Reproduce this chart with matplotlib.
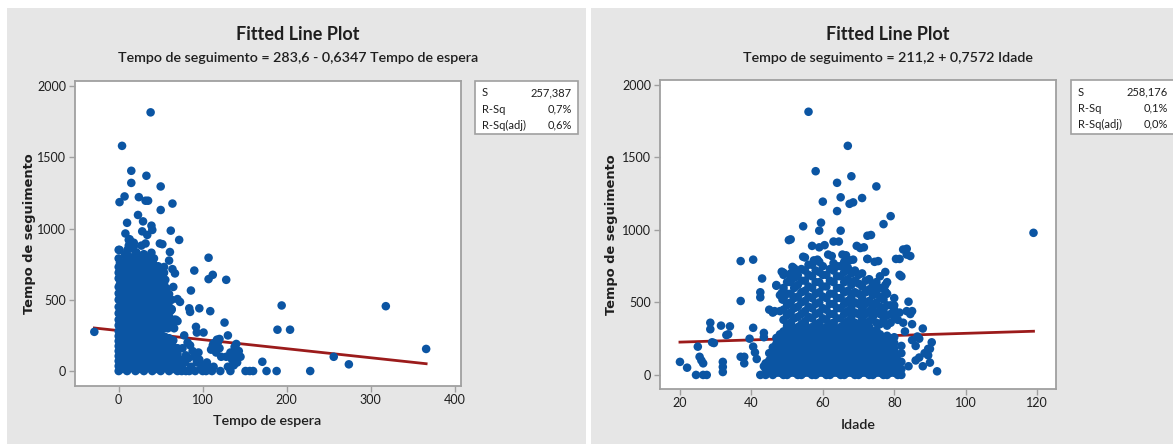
import numpy as np
import matplotlib.pyplot as plt
from matplotlib.patches import Rectangle

# Tempo de espera (x) vs Tempo de seguimento (y): dense block by columns
espera_core_x = [0, 5, 10, 15, 20, 25, 30, 35, 40, 45, 50, 55, 60, 65, 70, 75]
espera_core_y = [
    [0, 35, 70, 105, 140, 175, 210, 245, 280],
    [15, 50, 85, 120, 160, 195, 230, 265, 300],
    [0, 30, 65, 100, 140, 170, 210, 250, 285],
    [20, 55, 90, 125, 160, 195, 235, 270],
    [0, 35, 70, 110, 145, 180, 215, 250, 290],
    [15, 50, 85, 120, 155, 195, 230, 270],
    [0, 35, 70, 105, 140, 175, 215, 255, 290],
    [20, 55, 90, 125, 160, 200, 240, 275],
    [0, 35, 70, 110, 145, 180, 220, 260, 300],
    [15, 50, 85, 120, 160, 195, 235, 270],
    [0, 35, 75, 110, 145, 185, 225, 260],
    [20, 55, 90, 125, 165, 200, 240],
    [0, 35, 70, 110, 150, 190, 230],
    [15, 50, 90, 130, 170, 215],
    [0, 35, 75, 120, 160],
    [0, 30, 80],
]
espera_upper_x = [0, 3, 6, 9, 12, 15, 18, 21, 24, 27, 30, 33, 36, 39, 42,
                  45, 48, 51, 54, 57, 60, 63, 66, 70]
espera_upper_y = [
    [320, 360, 405, 450, 500, 545, 590, 650, 690, 730, 790, 850],
    [330, 400, 480, 560, 620, 700],
    [310, 370, 440, 520, 600, 660, 760],
    [340, 420, 490, 570, 640, 720, 800],
    [300, 360, 450, 530, 610, 690, 780, 880, 920],
    [330, 400, 470, 560, 640, 720, 860],
    [310, 380, 440, 510, 600, 680, 750, 900],
    [350, 420, 500, 570, 650, 710, 830],
    [320, 390, 460, 540, 620, 690, 760],
    [340, 410, 480, 560, 640, 730, 880],
    [310, 380, 450, 520, 600, 670, 820],
    [340, 420, 490, 570, 650, 740],
    [320, 390, 460, 540, 610, 690, 800],
    [350, 420, 500, 580, 660, 760, 830],
    [310, 380, 450, 530, 600, 680, 790],
    [340, 410, 480, 560, 650, 720],
    [310, 390, 460, 530, 610, 700],
    [330, 400, 480, 560, 650],
    [300, 370, 450, 520, 610, 690],
    [340, 420, 490, 580],
    [310, 380, 450, 540],
    [330, 430, 500],
    [300, 360],
    [350],
]
espera_mid_x = [1.5, 4.5, 7.5, 10.5, 13.5, 16.5, 19.5, 22.5, 25.5, 28.5,
                31.5, 34.5, 37.5, 40.5, 43.5, 46.5, 49.5, 52.5, 55.5, 58.5,
                61.5]
espera_mid_y = [
    [340, 420, 520, 610, 700, 760],
    [300, 370, 440, 510, 590, 660, 740],
    [350, 410, 480, 550, 630, 700, 820],
    [310, 380, 460, 540, 600, 680, 760, 850],
    [340, 420, 500, 580, 650, 740, 800],
    [300, 360, 430, 490, 580, 660, 780],
    [330, 400, 470, 540, 620, 700, 770],
    [300, 380, 450, 530, 600, 680, 790],
    [350, 420, 500, 580, 650, 720],
    [300, 370, 440, 520, 590, 660, 780],
    [350, 410, 480, 550, 630, 700],
    [300, 370, 450, 520, 590, 660, 760],
    [340, 400, 480, 560, 640, 710],
    [300, 380, 460, 540, 620, 700],
    [350, 430, 500, 580, 680],
    [330, 400, 470, 540, 620],
    [300, 370, 440, 510, 590],
    [350, 420, 500, 590, 660],
    [320, 400, 470, 550, 640],
    [300, 360, 430, 500],
    [360, 420],
]
# isolated cases (tempo de espera, tempo de seguimento)
espera_points = [
    (-29, 275), (38, 1815), (4, 1580), (15, 1405), (15, 1320), (33, 1370),
    (50, 1295), (1, 1185), (7, 1225), (24, 1220), (32, 1195), (35, 1195),
    (64, 1175), (50, 1130), (23, 1095), (10, 1040), (29, 1050), (39, 1020),
    (40, 990), (62, 985), (72, 920), (8, 965), (52, 890), (1, 850),
    (13, 925), (15, 905), (18, 875), (21, 830), (28, 980), (34, 955),
    (32, 895), (37, 800), (41, 755), (47, 735), (49, 895), (61, 835),
    (60, 775), (64, 715), (67, 685), (65, 590), (70, 505), (63, 435),
    (68, 360), (54, 730), (53, 685), (48, 655),
    (107, 795), (90, 705), (112, 675), (107, 645), (128, 640), (86, 565),
    (84, 440), (85, 415), (96, 440), (109, 420), (194, 460), (318, 455),
    (126, 340), (189, 290), (204, 290), (92, 310), (101, 270), (93, 270),
    (130, 250), (117, 220), (120, 225), (113, 195), (112, 180), (73, 485),
    (366, 155), (256, 100), (274, 47), (171, 65),
    (228, 0), (188, 0), (176, 0), (151, 0), (156, 0), (160, 0), (133, 0),
    (121, 0), (111, 0), (91, 0), (100, 0), (104, 0), (84, 0), (80, 0),
    (128, 100), (133, 130), (138, 170), (140, 190), (143, 140), (145, 100),
    (135, 80), (141, 60), (130, 30), (137, 40), (142, 110), (139, 125),
    (105, 60), (108, 20), (113, 30), (115, 150), (118, 200), (110, 150),
    (116, 130), (120, 160), (122, 100), (100, 40),
    (82, 200), (85, 180), (88, 140), (90, 100), (93, 60), (95, 130),
    (80, 110), (86, 30), (98, 20), (96, 80), (78, 250), (76, 160),
    (79, 60), (83, 90),
]

# Idade (x) vs Tempo de seguimento (y)
idade_core_x = [44, 46, 48, 50, 52, 54, 56, 58, 60, 62, 64, 66, 68, 70, 72,
                74, 76, 78, 80, 82]
idade_core_y = [
    [0, 40, 80],
    [0, 35, 70, 110, 150, 190],
    [15, 50, 85, 120, 160, 200, 240, 280],
    [0, 35, 70, 105, 140, 175, 210, 250, 290, 330],
    [15, 50, 85, 120, 155, 190, 230, 270, 310],
    [0, 35, 70, 105, 140, 180, 215, 250, 290, 330],
    [15, 50, 85, 120, 160, 195, 235, 270, 310],
    [0, 35, 70, 105, 140, 175, 210, 250, 290, 330],
    [15, 50, 85, 120, 155, 195, 230, 270, 310],
    [0, 35, 70, 110, 145, 180, 215, 255, 290, 330],
    [15, 50, 85, 125, 160, 195, 235, 270, 310],
    [0, 35, 70, 105, 140, 180, 215, 250, 290, 330],
    [15, 50, 90, 125, 160, 200, 235, 275, 310],
    [0, 35, 70, 105, 145, 180, 220, 255, 290, 330],
    [15, 50, 85, 120, 160, 195, 230, 270, 310],
    [0, 35, 70, 110, 145, 180, 215, 255, 290],
    [15, 50, 85, 125, 160, 200, 240, 280],
    [0, 35, 70, 110, 150, 190, 230, 270],
    [15, 55, 100, 140, 180, 220, 260],
    [0, 40, 90, 150, 200],
]
idade_core2_x = [45, 47, 49, 51, 53, 55, 57, 59, 61, 63, 65, 67, 69, 71, 73,
                 75, 77, 79, 81]
idade_core2_y = [
    [15, 55, 100, 150],
    [15, 50, 90, 130, 170, 215, 255],
    [0, 35, 70, 105, 140, 180, 220, 260, 300],
    [15, 50, 85, 120, 160, 195, 235, 270, 310, 350],
    [0, 35, 70, 105, 140, 175, 215, 250, 290, 330],
    [15, 50, 85, 120, 160, 195, 230, 270, 310, 350],
    [0, 35, 70, 110, 145, 180, 215, 255, 290, 330],
    [15, 50, 85, 125, 160, 195, 235, 270, 310, 350],
    [0, 35, 70, 105, 140, 180, 215, 250, 290, 330],
    [15, 50, 90, 125, 160, 200, 235, 275, 310, 350],
    [0, 35, 70, 105, 145, 180, 220, 255, 290, 330],
    [15, 50, 85, 120, 160, 195, 230, 270, 310, 350],
    [0, 35, 70, 110, 145, 180, 215, 255, 290, 330],
    [15, 50, 85, 125, 160, 200, 240, 280, 320],
    [0, 35, 70, 105, 140, 180, 215, 250, 290, 330],
    [15, 50, 85, 120, 160, 195, 235, 270, 310],
    [0, 35, 70, 110, 145, 180, 220, 260],
    [15, 50, 90, 130, 170, 210, 250],
    [0, 45, 95, 140],
]
idade_upper_x = [49, 51, 53, 55, 57, 59, 61, 63, 65, 67, 69, 71, 73, 75, 77, 79]
idade_upper_y = [
    [380, 450, 520, 600],
    [360, 430, 500, 560, 640, 700],
    [400, 470, 540, 620, 690],
    [370, 440, 510, 580, 650, 720],
    [390, 460, 530, 600, 680, 760],
    [360, 430, 500, 570, 640, 710, 780],
    [380, 450, 530, 610, 690],
    [360, 420, 490, 560, 640, 720, 770],
    [390, 460, 530, 600, 680, 750],
    [370, 440, 510, 580, 660, 740],
    [360, 430, 500, 570, 650, 720],
    [390, 460, 530, 610, 700],
    [370, 440, 510, 590, 660],
    [360, 430, 500, 580, 640],
    [380, 450, 520, 600],
    [360, 420, 480],
]
idade_upper2_x = [50, 52, 54, 56, 58, 60, 62, 64, 66, 68, 70, 72, 74, 76, 78,
                  80]
idade_upper2_y = [
    [340, 410, 480, 560, 640],
    [390, 460, 530, 600, 670, 720],
    [350, 420, 500, 570, 650, 730],
    [400, 470, 540, 610, 690, 760],
    [350, 420, 490, 560, 640, 720],
    [390, 460, 540, 610, 690, 750],
    [350, 420, 490, 560, 650, 730],
    [390, 460, 530, 600, 680, 750],
    [350, 420, 490, 570, 640, 710, 780],
    [400, 470, 540, 620, 700],
    [350, 420, 490, 560, 630, 690],
    [350, 420, 490, 570, 650],
    [400, 470, 550, 620],
    [350, 420, 470, 540, 600, 680],
    [340, 410, 480, 560, 640],
    [400, 450, 530],
]
# isolated cases (idade, tempo de seguimento)
idade_points = [
    (56, 1815), (67, 1580), (58, 1405), (68, 1370), (64, 1325), (75, 1300),
    (60, 1195), (65, 1225), (67.5, 1180), (68.5, 1190), (71, 1220),
    (64, 1130), (79, 1095), (59.5, 1050), (59, 995), (54.5, 1025),
    (65, 995), (77, 1040), (119, 980), (51, 935), (57, 890), (59, 880),
    (60.5, 895), (63, 920), (64.5, 920), (69.5, 890), (70.5, 875),
    (71.5, 880), (72.5, 960), (73.5, 965), (62.5, 820), (55, 810),
    (58.5, 795), (66.5, 825), (68.5, 795), (75.5, 785), (72.5, 800),
    (81.5, 800), (82, 680), (83.5, 870), (84.5, 820),
    (37, 785), (40.5, 795), (37, 510), (43, 665), (42.5, 570), (42.5, 535),
    (40.5, 325), (31.5, 340), (34, 335), (33.5, 280), (28.5, 360),
    (28.5, 315), (29.5, 220), (25, 195), (20, 90), (22, 50), (24.5, 0),
    (26.5, 0), (27.5, 0), (25.5, 125), (26, 100), (26.5, 80), (32, 90),
    (32, 55), (32, 20), (37, 125), (38, 125), (38, 80), (40.5, 195),
    (41, 155), (41.5, 110), (42.5, 0), (43.5, 290), (43.5, 260),
    (43.5, 60), (44.5, 30), (47, 615), (48.5, 565), (49, 530), (46, 430),
    (46.5, 440), (49, 705), (49, 690), (52, 735), (51, 670),
    (88, 320), (90.5, 225), (92, 25), (90, 85), (89.5, 135), (84, 505),
    (85, 440), (84.5, 420), (85, 350), (87, 250), (86, 200), (87, 120),
    (81.5, 430), (82.5, 360), (80, 480),
    (47, 620), (48.5, 712), (50.5, 930), (48, 550), (48.7, 520), (45, 450),
    (48, 440), (39.5, 250), (33, 275), (29, 225),
    (54.5, 815), (57.5, 790), (61.5, 830), (65.5, 830), (67.5, 790),
    (72.5, 800), (74.5, 780), (80.5, 800), (83.5, 830), (82.5, 865),
    (51.5, 745), (77.5, 710), (81.5, 690), (77.5, 620), (77.5, 575),
    (83.5, 440), (86.5, 265), (89.5, 180), (88, 60), (86, 100), (84, 60),
    (81, 380), (83, 300), (85, 240), (88.5, 150), (90, 180),
]

stats_labels = ['S', 'R-Sq', 'R-Sq(adj)']
espera_stats = ['257,387', '0,7%', '0,6%']
idade_stats = ['258,176', '0,1%', '0,0%']
espera_fit = (283.6, -0.6347)
idade_fit = (211.2, 0.7572)

W, H = 1173, 444
BLUE = '#0b55a3'
RED = '#9b1b1b'
FRAME = '#a0a0a0'
TEXT = '#1e1e1e'
FONT = ['Lato', 'DejaVu Sans']


def columns(xs, ys):
    px, py = [], []
    for x, col in zip(xs, ys):
        px += [x] * len(col)
        py += col
    return px, py


def pairs(pts):
    return [p[0] for p in pts], [p[1] for p in pts]


def fx(x):
    return x / W


def fy(y):
    return 1 - y / H


fig = plt.figure(figsize=(W / 100, H / 100), dpi=100)
fig.patch.set_facecolor('white')

# grey panel backgrounds, kept under the axes
for x0, x1 in [(7, 586), (591, 1173)]:
    fig.patches.append(Rectangle((fx(x0), 0), fx(x1) - fx(x0), fy(8),
                                 transform=fig.transFigure,
                                 facecolor='#e6e6e6', edgecolor='none',
                                 zorder=-10))

panels = [
    dict(rect=(74.5, 81, 460.5, 386), xlim=(-52.6, 406.9), ylim=(-105, 2035),
         xticks=[0, 100, 200, 300, 400],
         pts=[columns(espera_core_x, espera_core_y),
              columns(espera_upper_x, espera_upper_y),
              columns(espera_mid_x, espera_mid_y),
              pairs(espera_points)],
         fit=espera_fit, stats=espera_stats,
         title_x=298, sub='Tempo de seguimento = 283,6 - 0,6347 Tempo de espera',
         xlabel='Tempo de espera', xlabel_y=421, ylabel_x=30,
         box=(475, 81, 578, 134)),
    dict(rect=(659.6, 80, 1056, 389), xlim=(14.3, 125.3), ylim=(-97, 2034),
         xticks=[20, 40, 60, 80, 100, 120],
         pts=[columns(idade_core_x, idade_core_y),
              columns(idade_core2_x, idade_core2_y),
              columns(idade_upper_x, idade_upper_y),
              columns(idade_upper2_x, idade_upper2_y),
              pairs(idade_points)],
         fit=idade_fit, stats=idade_stats,
         title_x=888, sub='Tempo de seguimento = 211,2 + 0,7572 Idade',
         xlabel='Idade', xlabel_y=425, ylabel_x=612,
         box=(1071, 80, 1180, 134)),
]

for p in panels:
    l, t, r, b = p['rect']
    ax = fig.add_axes([fx(l), fy(b), fx(r) - fx(l), fy(t) - fy(b)])
    ax.set_zorder(1)
    ax.set_facecolor('white')
    xs_all = []
    for xs, ys in p['pts']:
        ax.scatter(xs, ys, s=38, color=BLUE, edgecolors='none', zorder=3)
        xs_all += list(xs)
    a, m = p['fit']
    lx = np.array([min(xs_all), max(xs_all)])
    ax.plot(lx, a + m * lx, color=RED, lw=2.0, zorder=2)
    ax.set_xlim(*p['xlim'])
    ax.set_ylim(*p['ylim'])
    ax.set_xticks(p['xticks'])
    ax.set_yticks([0, 500, 1000, 1500, 2000])
    for s in ax.spines.values():
        s.set_color(FRAME)
        s.set_linewidth(1.3)
    ax.tick_params(direction='out', length=4, width=1, color=FRAME,
                   labelcolor=TEXT, labelsize=9, pad=2)
    for lab in ax.get_xticklabels() + ax.get_yticklabels():
        lab.set_family(FONT)

    cx = p['title_x']
    fig.text(fx(cx), fy(35), 'Fitted Line Plot', ha='center', va='center',
             family=FONT, fontweight='bold', fontsize=13, color=TEXT)
    fig.text(fx(cx), fy(58), p['sub'], ha='center', va='center',
             family=FONT, fontweight='semibold', fontsize=10.3, color=TEXT)
    fig.text(fx((l + r) / 2), fy(p['xlabel_y']), p['xlabel'], ha='center',
             va='center', family=FONT, fontweight='semibold', fontsize=10.3,
             color=TEXT)
    fig.text(fx(p['ylabel_x']), fy((t + b) / 2), 'Tempo de seguimento',
             rotation=90, ha='center', va='center', family='DejaVu Sans',
             fontweight='bold', fontsize=9.4, color=TEXT)

    bl, bt, br, bb = p['box']
    fig.patches.append(Rectangle((fx(bl), fy(bb)), fx(br) - fx(bl),
                                 fy(bt) - fy(bb), transform=fig.transFigure,
                                 facecolor='white', edgecolor=FRAME,
                                 lw=1.2, zorder=2))
    for i, (name, val) in enumerate(zip(stats_labels, p['stats'])):
        ry = bt + 12 + i * 16
        fig.text(fx(bl + 7), fy(ry), name, ha='left', va='center',
                 family=FONT, fontsize=8, color=TEXT, zorder=3)
        fig.text(fx(bl + 97), fy(ry), val, ha='right', va='center',
                 family=FONT, fontsize=8, color=TEXT, zorder=3)

fig.savefig('out.png', dpi=100)
